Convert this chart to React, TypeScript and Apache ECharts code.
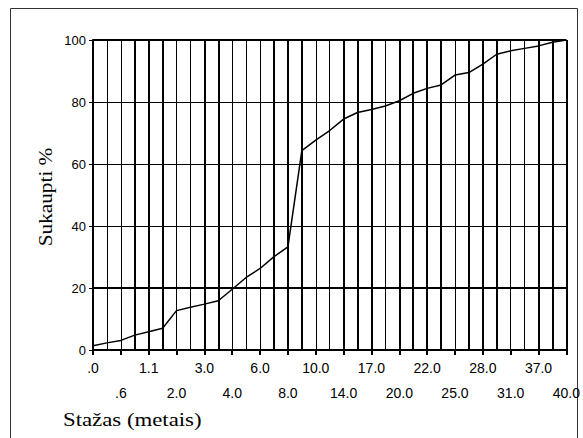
import React, { useEffect, useRef } from "react";
import * as echarts from "echarts";

// Stažas (years) categories — every second one is labelled in the picture
const categories = [
  ".0", ".3", ".6", ".8", "1.1", "1.5", "2.0", "2.5", "3.0", "3.5",
  "4.0", "5.0", "6.0", "7.0", "8.0", "9.0", "10.0", "12.0", "14.0", "15.0",
  "17.0", "18.0", "20.0", "21.0", "22.0", "24.0", "25.0", "27.0", "28.0", "30.0",
  "31.0", "35.0", "37.0", "38.0", "40.0",
];

// cumulative percentage
const cumulativePercent = [
  1.4, 2.3, 3.1, 4.8, 5.9, 7.0, 12.7, 13.8, 14.8, 15.9,
  19.6, 23.4, 26.3, 30.1, 33.3, 64.3, 67.7, 70.8, 74.5, 76.6,
  77.6, 78.7, 80.4, 82.8, 84.4, 85.5, 88.7, 89.5, 92.2, 95.4,
  96.5, 97.3, 98.1, 99.3, 100,
];

// gridlines that appear heavier in the picture
const heavyVerticalIdx = [3, 4, 5, 8, 9, 13, 14, 15, 18, 19, 20, 22, 23, 24, 25, 27, 28, 29, 32, 33, 34];
const heavyHorizontalValues = [20, 100];

const xTitle = "Stažas (metais)";
const yTitle = "Sukaupti %";

export default function App() {
  const ref = useRef<HTMLDivElement>(null);
  useEffect(() => {
    if (!ref.current) return;
    const chart = echarts.init(ref.current, undefined, { renderer: "svg" });
    const sans = "'Liberation Sans', Arial, sans-serif";
    const serif = "'Liberation Serif', 'Times New Roman', serif";
    chart.setOption({
      animation: false,
      backgroundColor: "#fff",
      grid: { left: 93, right: 15, top: 40, bottom: 88, containLabel: false },
      xAxis: [
        {
          type: "category",
          data: categories,
          boundaryGap: false,
          axisLine: { show: true, lineStyle: { color: "#000", width: 2 } },
          axisTick: { show: true, interval: 1, length: 5, lineStyle: { color: "#000", width: 2 } },
          axisLabel: {
            show: true,
            interval: 1,
            margin: 5,
            color: "#000",
            fontFamily: sans,
            fontSize: 14,
            lineHeight: 25,
            formatter: (value: string) => {
              const i = categories.indexOf(value);
              return (i / 2) % 2 === 1 ? "\n" + value : value;
            },
          },
          splitLine: { show: true, interval: 0, lineStyle: { color: "#000", width: 1 } },
        },
        {
          type: "category",
          data: categories,
          boundaryGap: false,
          axisLine: { show: false },
          axisTick: { show: false },
          axisLabel: { show: false },
          splitLine: {
            show: true,
            interval: (index: number) => heavyVerticalIdx.includes(index),
            lineStyle: { color: "#000", width: 2 },
          },
        },
      ],
      yAxis: {
        type: "value",
        min: 0,
        max: 100,
        interval: 20,
        axisLine: { show: true, lineStyle: { color: "#000", width: 2 } },
        axisTick: { show: true, length: 4, lineStyle: { color: "#000", width: 1 } },
        axisLabel: { color: "#000", fontFamily: sans, fontSize: 13, margin: 7 },
        splitLine: { show: true, lineStyle: { color: "#000", width: 1 } },
      },
      series: [
        {
          type: "line",
          data: cumulativePercent,
          symbol: "none",
          lineStyle: { color: "#000", width: 1.5 },
          markLine: {
            silent: true,
            symbol: ["none", "none"],
            label: { show: false },
            lineStyle: { color: "#000", width: 2, type: "solid" },
            data: heavyHorizontalValues.map((v) => ({ yAxis: v })),
          },
        },
      ],
      graphic: [
        {
          type: "rect",
          z: -10,
          shape: { x: 10.5, y: 8.5, width: 567, height: 440 },
          style: { fill: "none", stroke: "#333", lineWidth: 1 },
        },
        {
          type: "text",
          x: 63,
          y: 420,
          scaleX: 1.2,
          style: {
            text: xTitle,
            fontFamily: serif,
            fontSize: 19,
            fill: "#000",
            align: "left",
            verticalAlign: "middle",
          },
        },
        {
          type: "text",
          x: 45,
          y: 197,
          rotation: Math.PI / 2,
          scaleX: 1.12,
          style: {
            text: yTitle,
            fontFamily: serif,
            fontSize: 19,
            fill: "#000",
            align: "center",
            verticalAlign: "middle",
          },
        },
      ],
    });
    return () => chart.dispose();
  }, []);
  return (
    <div
      ref={ref}
      style={{ position: "fixed", left: 0, top: 0, width: 583, height: 438 }}
    />
  );
}
